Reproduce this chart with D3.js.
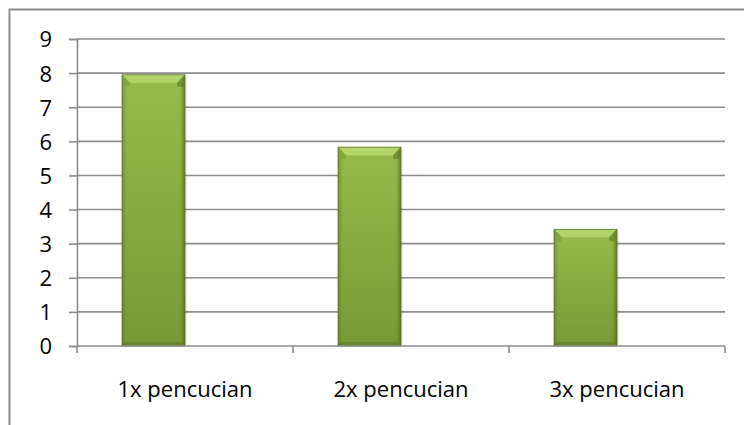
<!DOCTYPE html>
<html>
<head>
<meta charset="utf-8">
<script src="https://cdn.jsdelivr.net/npm/d3@7"></script>
<style>
  body { margin: 0; background: #fff; }
  svg text { font-family: "Open Sans", "Noto Sans", sans-serif; fill: #000; }
</style>
</head>
<body>
<div id="chart"></div>
<script>
// Data
const categories = ["1x pencucian", "2x pencucian", "3x pencucian"];
const seriesNames = ["Series1", "Series2"];
const series1 = [7.95, 5.83, 3.42];
const series2 = [null, null, null]; // empty second series keeps bars off-centre
const yTicks = [0, 1, 2, 3, 4, 5, 6, 7, 8, 9];

// Dimensions
const W = 744, H = 425;
const margin = {top: 39, right: 19, bottom: 79, left: 77};
const width = W - margin.left - margin.right;
const height = H - margin.top - margin.bottom;

const svg = d3.select("#chart")
    .append("svg")
    .attr("width", W)
    .attr("height", H);

// Outer chart border (runs past right/bottom edges)
svg.append("rect")
    .attr("x", 9.5)
    .attr("y", 9.5)
    .attr("width", W + 20)
    .attr("height", H + 20)
    .attr("fill", "none")
    .attr("stroke", "#8c8c8c")
    .attr("stroke-width", 2);

// Gradients
const defs = svg.append("defs");
const bodyGrad = defs.append("linearGradient")
    .attr("id", "barBody")
    .attr("x1", 0).attr("y1", 0).attr("x2", 0).attr("y2", 1);
bodyGrad.append("stop").attr("offset", "0%").attr("stop-color", "#97bb4c");
bodyGrad.append("stop").attr("offset", "100%").attr("stop-color", "#789a36");

const sideGrad = defs.append("linearGradient")
    .attr("id", "barSide")
    .attr("x1", 0).attr("y1", 0).attr("x2", 1).attr("y2", 0);
sideGrad.append("stop").attr("offset", "0%").attr("stop-color", "#5f7a28").attr("stop-opacity", 0.55);
sideGrad.append("stop").attr("offset", "8%").attr("stop-color", "#5f7a28").attr("stop-opacity", 0);
sideGrad.append("stop").attr("offset", "92%").attr("stop-color", "#5f7a28").attr("stop-opacity", 0);
sideGrad.append("stop").attr("offset", "100%").attr("stop-color", "#4e6620").attr("stop-opacity", 0.75);

const g = svg.append("g")
    .attr("transform", `translate(${margin.left},${margin.top})`);

// Scales
const x0 = d3.scaleBand()
    .domain(categories)
    .range([0, width])
    .padding(0);

const barW = x0.bandwidth() / 3.43;
const x1 = d3.scaleBand()
    .domain(seriesNames)
    .range([(x0.bandwidth() - 2 * barW) / 2, (x0.bandwidth() + 2 * barW) / 2])
    .padding(0);

const y = d3.scaleLinear()
    .domain([0, 9])
    .range([height, 0]);

// Gridlines
g.selectAll(".grid")
    .data(yTicks.filter(d => d > 0))
    .enter()
    .append("line")
    .attr("x1", 0)
    .attr("x2", width)
    .attr("y1", d => y(d))
    .attr("y2", d => y(d))
    .attr("stroke", "#8c8c8c")
    .attr("stroke-width", 1.6);

// Y axis
const yAxis = g.append("g")
    .call(d3.axisLeft(y).tickValues(yTicks).tickSize(8).tickPadding(17));
yAxis.select(".domain").attr("stroke", "#8c8c8c").attr("stroke-width", 1.6);
yAxis.selectAll(".tick line").attr("stroke", "#8c8c8c").attr("stroke-width", 1.6);
yAxis.selectAll(".tick text")
    .style("font-size", "22px")
    .attr("dy", "0.36em");

// Bars
const bars = [];
categories.forEach((c, i) => {
    [series1, series2].forEach((s, j) => {
        if (s[i] != null) bars.push({cat: c, series: seriesNames[j], value: s[i]});
    });
});

const barG = g.selectAll(".bar")
    .data(bars)
    .enter()
    .append("g")
    .attr("class", "bar")
    .attr("transform", d => `translate(${x0(d.cat) + x1(d.series)},${y(d.value)})`);

// soft shadow on the right
barG.append("rect")
    .attr("x", 2)
    .attr("y", 2)
    .attr("width", x1.bandwidth())
    .attr("height", d => y(0) - y(d.value) - 2)
    .attr("fill", "#000")
    .attr("opacity", 0.08);

barG.append("rect")
    .attr("width", x1.bandwidth())
    .attr("height", d => y(0) - y(d.value))
    .attr("fill", "url(#barBody)");

barG.append("rect")
    .attr("width", x1.bandwidth())
    .attr("height", d => y(0) - y(d.value))
    .attr("fill", "url(#barSide)");

// top bevel
const bev = 8;
barG.append("path")
    .attr("d", d => {
        const w = x1.bandwidth();
        return `M0,0 L${w},0 L${w - bev},${bev} L${bev},${bev} Z`;
    })
    .attr("fill", "#b3d46a");
barG.append("path")
    .attr("d", () => `M0,0 L${bev},${bev} L${bev},${bev + 4} L0,${bev + 4} Z`)
    .attr("fill", "#7e9e3a")
    .attr("opacity", 0.7);
barG.append("path")
    .attr("d", () => {
        const w = x1.bandwidth();
        return `M${w},0 L${w - bev},${bev} L${w - bev},${bev + 4} L${w},${bev + 4} Z`;
    })
    .attr("fill", "#5f7a28")
    .attr("opacity", 0.6);

// bottom bevel
barG.append("rect")
    .attr("y", d => y(0) - y(d.value) - 4)
    .attr("width", x1.bandwidth())
    .attr("height", 4)
    .attr("fill", "#5d7826")
    .attr("opacity", 0.6);

// bar outline
barG.append("rect")
    .attr("width", x1.bandwidth())
    .attr("height", d => y(0) - y(d.value))
    .attr("fill", "none")
    .attr("stroke", "#5a7424")
    .attr("stroke-width", 0.8);

// X axis
const xAxis = g.append("g")
    .attr("transform", `translate(0,${height})`);
xAxis.append("line")
    .attr("x1", 0).attr("x2", width)
    .attr("stroke", "#8c8c8c").attr("stroke-width", 1.6);
xAxis.selectAll(".xtick")
    .data(categories.concat([null]))
    .enter()
    .append("line")
    .attr("x1", (d, i) => i * x0.step())
    .attr("x2", (d, i) => i * x0.step())
    .attr("y1", 0)
    .attr("y2", 7)
    .attr("stroke", "#8c8c8c").attr("stroke-width", 1.6);
xAxis.selectAll(".xlabel")
    .data(categories)
    .enter()
    .append("text")
    .attr("x", d => x0(d) + x0.bandwidth() / 2)
    .attr("y", 51)
    .attr("text-anchor", "middle")
    .style("font-size", "22px")
    .text(d => d);

// redraw y domain on top
yAxis.raise();
</script>
</body>
</html>
